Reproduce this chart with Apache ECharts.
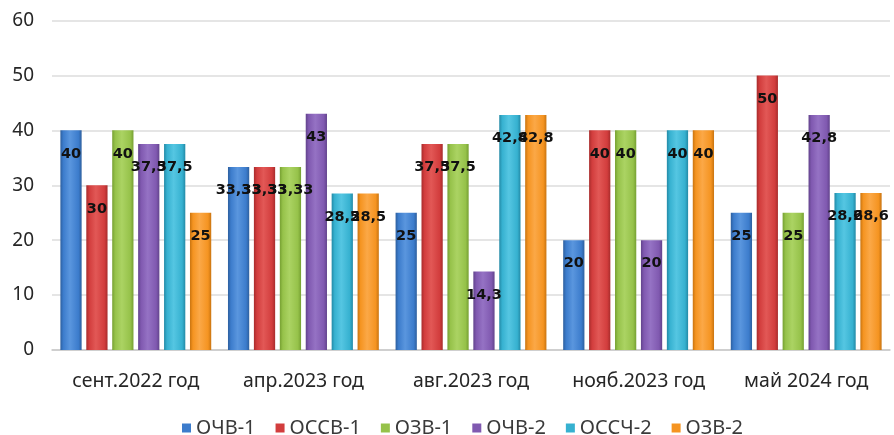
<!DOCTYPE html>
<html>
<head>
<meta charset="utf-8">
<script src="https://cdn.jsdelivr.net/npm/echarts@6/dist/echarts.min.js"></script>
<style>
  html, body { margin: 0; padding: 0; background: #fff; }
  #chart { width: 894px; height: 435px; }
</style>
</head>
<body>
<div id="chart"></div>
<script>
// Survey periods
const categories = ['сент.2022 год', 'апр.2023 год', 'авг.2023 год', 'нояб.2023 год', 'май 2024 год'];

// Values per group
const seriesNames = ['ОЧВ-1', 'ОССВ-1', 'ОЗВ-1', 'ОЧВ-2', 'ОССЧ-2', 'ОЗВ-2'];
const ochv1 = [40, 33.33, 25, 20, 25];
const ossv1 = [30, 33.33, 37.5, 40, 50];
const ozv1  = [40, 33.33, 37.5, 40, 25];
const ochv2 = [37.5, 43, 14.3, 20, 42.8];
const ossch2 = [37.5, 28.5, 42.8, 40, 28.6];
const ozv2  = [25, 28.5, 42.8, 40, 28.6];
const seriesValues = [ochv1, ossv1, ozv1, ochv2, ossch2, ozv2];

const yTicks = [0, 10, 20, 30, 40, 50, 60];

// Base colour, highlight, edge shade for each series
const palette = [
  ['#3c7ccc', '#5a96de', '#2d5f9e'],
  ['#d23d3d', '#e25856', '#a82c2c'],
  ['#96c24a', '#abd363', '#76a032'],
  ['#8059b0', '#9572c4', '#62438c'],
  ['#36b1d0', '#55c6e2', '#238aa6'],
  ['#f59421', '#fba847', '#c97410']
];

// Horizontal shading that gives each bar a rounded look
function cylinder(c) {
  return new echarts.graphic.LinearGradient(0, 0, 1, 0, [
    { offset: 0, color: c[2] },
    { offset: 0.14, color: c[0] },
    { offset: 0.45, color: c[1] },
    { offset: 0.85, color: c[0] },
    { offset: 1, color: c[2] }
  ]);
}

const chart = echarts.init(document.getElementById('chart'));
chart.setOption({
  animation: false,
  grid: { left: 52, right: 4, top: 20.5, bottom: 85 },
  legend: {
    top: 413,
    left: 177,
    itemWidth: 9,
    itemHeight: 9,
    itemGap: 20,
    icon: 'rect',
    textStyle: { fontFamily: 'Noto Sans', fontSize: 20, color: '#3a3a3a' },
    data: seriesNames.map((n, i) => ({ name: n, itemStyle: { color: palette[i][0] } }))
  },
  xAxis: {
    type: 'category',
    data: categories,
    axisTick: { show: false },
    axisLine: { lineStyle: { color: '#c8c8c8', width: 1.5 } },
    axisLabel: { interval: 0, fontFamily: 'Noto Sans', fontSize: 19.5, color: '#262626', margin: 21 }
  },
  yAxis: {
    type: 'value',
    min: yTicks[0],
    max: yTicks[yTicks.length - 1],
    interval: 10,
    axisLine: { show: false },
    axisTick: { show: false },
    splitLine: { lineStyle: { color: '#dcdcdc', width: 1.5 } },
    axisLabel: { fontFamily: 'Noto Sans', fontSize: 19, color: '#262626', margin: 18 }
  },
  series: seriesNames.map((name, i) => ({
    name: name,
    type: 'bar',
    data: seriesValues[i],
    barGap: '22%',
    barCategoryGap: '10%',
    itemStyle: { color: cylinder(palette[i]) },
    label: {
      show: true,
      position: 'insideTop',
      distance: 16,
      fontFamily: 'DejaVu Sans',
      fontWeight: 'bold',
      fontSize: 14.5,
      color: '#111',
      formatter: p => String(p.value).replace('.', ',')
    }
  }))
});
</script>
</body>
</html>
